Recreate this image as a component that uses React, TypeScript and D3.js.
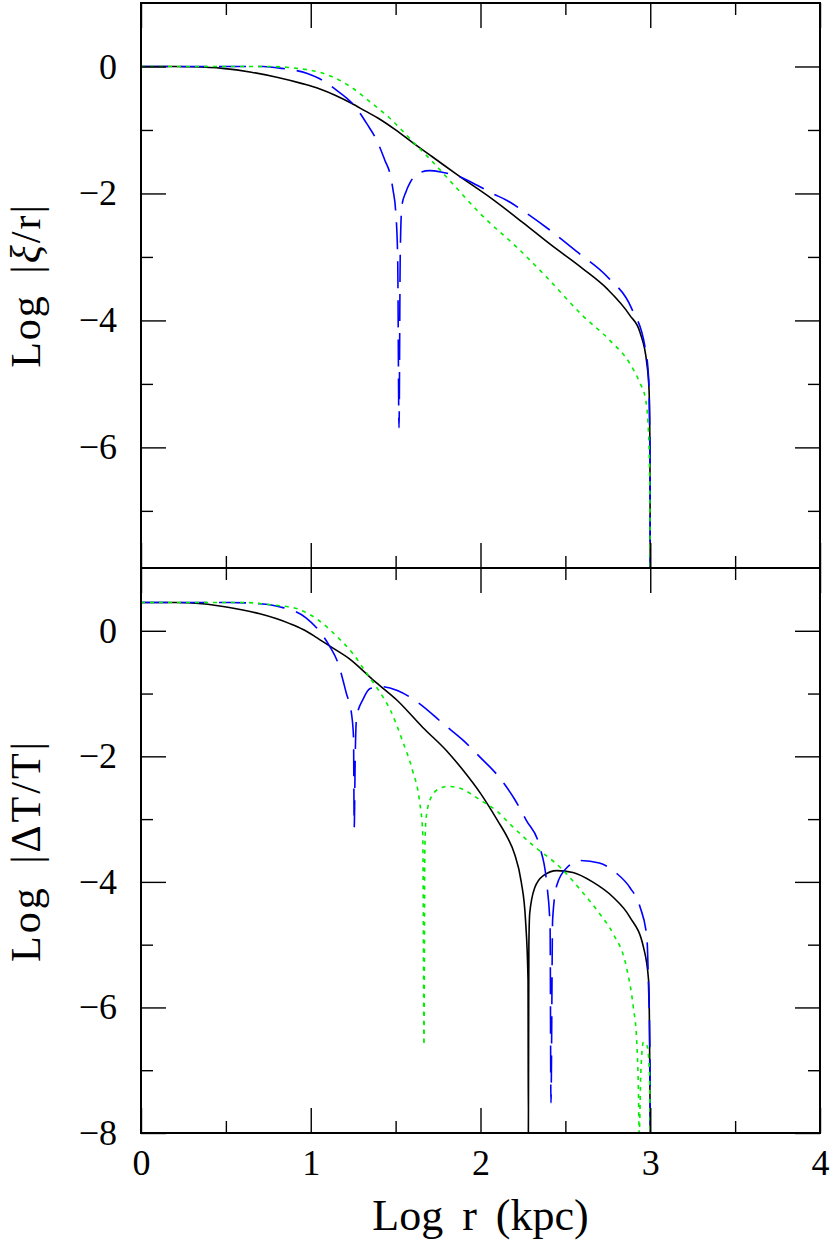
import { useEffect, useRef } from "react";
import * as d3 from "d3";

// x axis (Log r) ticks
const xMajor = [0, 1, 2, 3, 4];
const xMinor = [0.5, 1.5, 2.5, 3.5];

// y axis ticks for each panel
const topMajor = [0, -2, -4, -6];
const topMinor = [-1, -3, -5, -7];
const botMajor = [0, -2, -4, -6, -8];
const botMinor = [-1, -3, -5, -7];

// upper panel: Log |xi/r|
const xiSolid = [
  [0, 0], [0.2, 0], [0.3, -0.005], [0.48, -0.03], [0.65, -0.09], [0.8, -0.17], [0.95, -0.27],
  [1.05, -0.35], [1.15, -0.46], [1.24, -0.58], [1.32, -0.7], [1.4, -0.82], [1.5, -1.0],
  [1.6, -1.2], [1.72, -1.43], [1.86, -1.7], [2.07, -2.09], [2.25, -2.46], [2.41, -2.8],
  [2.6, -3.18], [2.745, -3.5], [2.88, -3.92], [2.94, -4.19], [2.98, -4.68], [2.993, -5.1],
  [2.998, -6.0], [3.0, -7.9],
];
const xiDashed = [
  [0, 0], [0.3, 0], [0.72, 0], [0.83, -0.03], [0.98, -0.11], [1.05, -0.19], [1.14, -0.35],
  [1.27, -0.66], [1.33, -0.9], [1.39, -1.17], [1.437, -1.48], [1.467, -1.69], [1.485, -1.95],
  [1.5, -2.27], [1.512, -3.0], [1.52, -5.69], [1.527, -3.0], [1.537, -2.19], [1.56, -1.98],
  [1.585, -1.83], [1.63, -1.685], [1.7, -1.64], [1.78, -1.67], [1.86, -1.72], [1.98, -1.87],
  [2.07, -2.0], [2.156, -2.11], [2.27, -2.31], [2.41, -2.58], [2.574, -2.93], [2.75, -3.32],
  [2.89, -3.81], [2.97, -4.43], [2.99, -4.9], [2.998, -6.0], [3.0, -7.9],
];
const xiDotted = [
  [0, 0], [0.5, 0], [0.74, 0], [0.92, -0.03], [1.05, -0.09], [1.15, -0.19], [1.24, -0.33],
  [1.36, -0.58], [1.46, -0.8], [1.6, -1.18], [1.71, -1.48], [1.82, -1.8], [2.01, -2.35],
  [2.215, -2.85], [2.39, -3.32], [2.6, -3.92], [2.76, -4.31], [2.88, -4.68], [2.94, -4.99],
  [2.97, -5.21], [2.987, -5.62], [2.997, -6.5], [3.0, -7.9],
];

// lower panel: Log |dT/T|
const dtSolid = [
  [0, 0.45], [0.2, 0.45], [0.36, 0.43], [0.52, 0.37], [0.6, 0.33], [0.7, 0.27], [0.8, 0.19],
  [0.88, 0.11], [0.955, 0.02], [1.03, -0.1], [1.11, -0.24], [1.23, -0.45], [1.37, -0.79],
  [1.51, -1.11], [1.66, -1.54], [1.8, -1.91], [1.9, -2.23], [2.0, -2.59], [2.1, -3.02],
  [2.16, -3.3], [2.2, -3.55], [2.24, -4.0], [2.265, -4.6], [2.28, -5.56], [2.282, -8],
  [2.285, -5.0], [2.29, -4.5], [2.32, -4.09], [2.37, -3.9], [2.45, -3.82], [2.545, -3.85],
  [2.66, -4.0], [2.78, -4.24], [2.88, -4.56], [2.96, -5.04], [2.99, -5.56], [2.995, -6.2], [3.0, -8],
];
const dtDashed = [
  [0, 0.45], [0.52, 0.45], [0.7, 0.43], [0.82, 0.38], [0.97, 0.21], [1.04, 0.03], [1.11, -0.24],
  [1.16, -0.51], [1.21, -1.0], [1.24, -1.32], [1.252, -1.7], [1.256, -3.13], [1.262, -2.0],
  [1.27, -1.38], [1.31, -1.08], [1.35, -0.92], [1.41, -0.89], [1.51, -0.95], [1.64, -1.16],
  [1.78, -1.48], [1.9, -1.75], [2.0, -2.02], [2.1, -2.3], [2.2, -2.68], [2.27, -3.02],
  [2.35, -3.45], [2.39, -4.02], [2.41, -4.72], [2.415, -7.52], [2.425, -4.6], [2.45, -4.05],
  [2.51, -3.77], [2.59, -3.66], [2.7, -3.7], [2.8, -3.86], [2.88, -4.09], [2.94, -4.4],
  [2.98, -4.88], [2.99, -5.68], [2.998, -6.7], [3.0, -8],
];
const dtDotted = [
  [0, 0.45], [0.6, 0.45], [0.78, 0.41], [0.92, 0.35], [1.05, 0.16], [1.15, -0.08], [1.25, -0.37],
  [1.33, -0.68], [1.39, -0.91], [1.47, -1.27], [1.54, -1.75], [1.6, -2.23], [1.64, -2.7],
  [1.66, -3.23], [1.667, -6.6], [1.672, -3.5], [1.68, -2.97], [1.71, -2.65], [1.76, -2.51],
  [1.81, -2.48], [1.88, -2.51], [2.0, -2.7], [2.1, -2.88], [2.17, -3.07], [2.31, -3.42],
  [2.47, -3.77], [2.59, -4.13], [2.7, -4.5], [2.78, -4.82], [2.86, -5.36], [2.9, -5.99],
  [2.92, -6.52], [2.93, -7.27], [2.935, -8], [2.945, -7.0], [2.96, -6.55], [2.98, -6.6],
  [2.995, -7.0], [3.0, -8],
];

const FONT = "'Liberation Serif', 'DejaVu Serif', serif";

export default function App() {
  const ref = useRef<SVGSVGElement>(null);

  useEffect(() => {
    const svg = d3.select(ref.current);
    svg.selectAll("*").remove();

    const left = 141, right = 820;
    const xScale = d3.scaleLinear().domain([0, 4]).range([left, right]);

    const panels = [
      { top: 3, bottom: 568, domain: [-7.9, 1], major: topMajor, minor: topMinor,
        series: [xiSolid, xiDashed, xiDotted], title: "xi", spacing: 2, xLabels: false },
      { top: 568, bottom: 1133, domain: [-8, 1], major: botMajor, minor: botMinor,
        series: [dtSolid, dtDashed, dtDotted], title: "dT", spacing: 3, xLabels: true },
    ];

    const styles = [
      { color: "#000000", dash: null },
      { color: "#0000ff", dash: "27 12" },
      { color: "#00ee00", dash: "4 5" },
    ];

    panels.forEach((p, i) => {
      const yScale = d3.scaleLinear().domain(p.domain).range([p.bottom, p.top]);
      const g = svg.append("g");

      const clipId = `clip-${i}`;
      svg.append("clipPath").attr("id", clipId)
        .append("rect")
        .attr("x", left).attr("y", p.top)
        .attr("width", right - left).attr("height", p.bottom - p.top);

      const line = d3.line<number[]>()
        .x(d => xScale(d[0]))
        .y(d => yScale(d[1]))
        .curve(d3.curveMonotoneX);

      p.series.forEach((s, k) => {
        g.append("path")
          .attr("d", line(s))
          .attr("clip-path", `url(#${clipId})`)
          .style("fill", "none")
          .style("stroke", styles[k].color)
          .style("stroke-width", 1.6)
          .style("stroke-dasharray", styles[k].dash);
      });

      // ticks pointing inward on all four sides
      const addAxis = (axis: any, transform: string, labels: boolean) => {
        const a = g.append("g").attr("transform", transform).call(axis);
        a.select(".domain").remove();
        a.selectAll("line").style("stroke", "#000").style("stroke-width", 1.4);
        if (!labels) a.selectAll("text").remove();
        else a.selectAll("text").style("font-family", FONT).style("font-size", "36px").style("fill", "#000");
        return a;
      };

      addAxis(d3.axisBottom(xScale).tickValues(xMajor).tickSize(-25).tickPadding(16).tickFormat(d3.format("d")),
        `translate(0,${p.bottom})`, p.xLabels);
      addAxis(d3.axisBottom(xScale).tickValues(xMinor).tickSize(-12), `translate(0,${p.bottom})`, false);
      addAxis(d3.axisTop(xScale).tickValues(xMajor).tickSize(-25), `translate(0,${p.top})`, false);
      addAxis(d3.axisTop(xScale).tickValues(xMinor).tickSize(-12), `translate(0,${p.top})`, false);

      addAxis(d3.axisLeft(yScale).tickValues(p.major).tickSize(-25).tickPadding(24).tickFormat(d3.format("d")),
        `translate(${left},0)`, true);
      addAxis(d3.axisLeft(yScale).tickValues(p.minor).tickSize(-12), `translate(${left},0)`, false);
      addAxis(d3.axisRight(yScale).tickValues(p.major).tickSize(-25), `translate(${right},0)`, false);
      addAxis(d3.axisRight(yScale).tickValues(p.minor).tickSize(-12), `translate(${right},0)`, false);

      g.append("rect")
        .attr("x", left).attr("y", p.top)
        .attr("width", right - left).attr("height", p.bottom - p.top)
        .style("fill", "none").style("stroke", "#000").style("stroke-width", 2);

      // y axis title
      const cy = (p.top + p.bottom) / 2;
      const t = g.append("text")
        .attr("transform", `translate(40,${cy}) rotate(-90)`)
        .attr("text-anchor", "middle")
        .style("font-family", FONT).style("font-size", "42px")
        .style("letter-spacing", `${p.spacing}px`)
        .style("word-spacing", "8px");
      if (p.title === "xi") {
        t.append("tspan").text("Log |");
        t.append("tspan").style("font-style", "italic").text("ξ");
        t.append("tspan").text("/r|");
      } else {
        t.text("Log |ΔT/T|");
      }
    });

    svg.append("text")
      .attr("x", xScale(2)).attr("y", 1230)
      .attr("text-anchor", "middle")
      .style("font-family", FONT).style("font-size", "44px")
      .style("word-spacing", "8px")
      .text("Log r (kpc)");
  }, []);

  return (
    <svg ref={ref} width={830} height={1247}
      style={{ position: "absolute", left: 0, top: 0, background: "#fff" }} />
  );
}
